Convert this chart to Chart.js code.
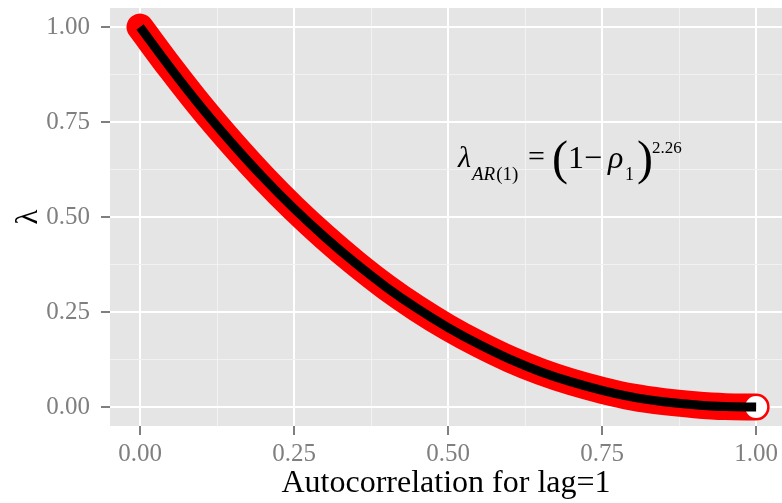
<!DOCTYPE html>
<html>
<head>
<meta charset="utf-8">
<script src="https://cdn.jsdelivr.net/npm/chart.js@4.4.1/dist/chart.umd.min.js"></script>
<style>
  html, body { margin: 0; padding: 0; background: #fff; }
  canvas { display: block; }
</style>
</head>
<body>
<canvas id="c" width="782" height="503"></canvas>
<script>
// valores
const rho = [0, 0.05, 0.10, 0.15, 0.20, 0.25, 0.30, 0.35, 0.40, 0.45, 0.50,
             0.55, 0.60, 0.65, 0.70, 0.75, 0.80, 0.85, 0.90, 0.95, 1.00];
const lambda = [1.000, 0.891, 0.788, 0.693, 0.604, 0.522, 0.447, 0.378, 0.315, 0.259, 0.209,
                0.165, 0.126, 0.093, 0.066, 0.044, 0.026, 0.014, 0.006, 0.001, 0.000];
const endPoint = [{ x: 1.00, y: 0.00 }];

const xMajor = [0, 0.25, 0.5, 0.75, 1];
const xMinor = [0.125, 0.375, 0.625, 0.875];
const xTickLabels = ['0.00', '0.25', '0.50', '0.75', '1.00'];
const yMajor = [0, 0.25, 0.5, 0.75, 1];
const yMinor = [0.125, 0.375, 0.625, 0.875];
const yTickLabels = ['0.00', '0.25', '0.50', '0.75', '1.00'];

const SERIF = '"Liberation Serif", "Times New Roman", serif';
const GREY = '#7f7f7f';

const points = rho.map((r, i) => ({ x: r, y: lambda[i] }));

/* fondo gris del panel */
const panelBg = {
  id: 'panelBg',
  beforeDraw(chart) {
    const { ctx, chartArea: a } = chart;
    ctx.save();
    ctx.fillStyle = '#e5e5e5';
    ctx.fillRect(a.left, a.top, a.right - a.left, a.bottom - a.top);
    ctx.restore();
  },
};

/* fórmula: λ_AR(1) = (1 − ρ1)^2.26 */
const formula = {
  id: 'formula',
  afterDraw(chart) {
    const { ctx, scales } = chart;
    const x0 = scales.x.getPixelForValue(0.516);
    const b = scales.y.getPixelForValue(0.630);
    ctx.save();
    ctx.fillStyle = '#000';
    ctx.textBaseline = 'alphabetic';
    const put = (txt, dx, dy, size, italic) => {
      ctx.font = (italic ? 'italic ' : '') + size + 'px ' + SERIF;
      ctx.fillText(txt, x0 + dx, b + dy);
      return ctx.measureText(txt).width;
    };
    put('λ', 0, -1, 30, true);
    const wAR = put('AR', 14, 12, 19, true);
    put('(1)', 14 + wAR + 1, 12, 19, false);
    put('=', 70, -2, 30, false);
    put('(', 94, 6, 48, false);
    put('1', 110, 0, 32, false);
    put('−', 126, 0, 32, false);
    put('ρ', 150, 0, 32, true);
    put('1', 167, 12, 18, false);
    put(')', 179, 6, 48, false);
    put('2.26', 194, -15, 17, false);
    ctx.restore();
  },
};

const isIn = (arr, v) => arr.some((m) => Math.abs(m - v) < 1e-9);

function axis(major, minor, labels, min, max, pad) {
  return {
    type: 'linear',
    min, max,
    afterBuildTicks: (s) => {
      s.ticks = major.concat(minor).sort((a, b) => a - b).map((v) => ({ value: v }));
    },
    ticks: {
      autoSkip: false, maxRotation: 0, padding: pad,
      color: GREY,
      font: { family: SERIF, size: 25 },
      callback: (v) => { const i = major.findIndex((m) => Math.abs(m - v) < 1e-9); return i >= 0 ? labels[i] : ''; },
    },
    grid: {
      color: (c) => (isIn(major, c.tick.value) ? '#ffffff' : '#f2f2f2'),
      lineWidth: (c) => (isIn(major, c.tick.value) ? 2 : 1),
      tickColor: (c) => (isIn(major, c.tick.value) ? GREY : 'rgba(0,0,0,0)'),
      tickLength: 9,
      tickWidth: 2,
    },
    border: { display: false },
  };
}

const noPad = (s) => { s.paddingTop = 0; s.paddingBottom = 0; s.paddingLeft = 0; s.paddingRight = 0; };

const xAxis = axis(xMajor, xMinor, xTickLabels, -0.0487, 1.042, 4);
xAxis.title = { display: true, text: 'Autocorrelation for lag=1', color: '#000', font: { family: SERIF, size: 32 }, padding: { top: 0, bottom: 0 } };
xAxis.afterFit = (s) => { s.height = 77; noPad(s); };

const yAxis = axis(yMajor, yMinor, yTickLabels, -0.05, 1.05, 11);
yAxis.title = { display: true, text: 'λ', color: '#000', font: { family: SERIF, size: 31 }, padding: { top: 10, bottom: 0 } };
yAxis.afterFit = (s) => { s.width = 110; noPad(s); };

new Chart(document.getElementById('c'), {
  type: 'scatter',
  data: {
    datasets: [
      {
        label: 'curva',
        data: points,
        showLine: true,
        borderColor: '#000000',
        borderWidth: 9,
        borderCapStyle: 'butt',
        cubicInterpolationMode: 'monotone',
        pointRadius: 0,
        clip: false,
      },
      {
        label: 'fin',
        data: endPoint,
        pointRadius: 12,
        pointBackgroundColor: '#ffffff',
        pointBorderColor: '#ff0000',
        pointBorderWidth: 2,
        clip: false,
      },
      {
        label: 'puntos',
        data: points,
        showLine: true,
        borderColor: '#ff0000',
        borderWidth: 27,
        borderCapStyle: 'round',
        borderJoinStyle: 'round',
        cubicInterpolationMode: 'monotone',
        pointRadius: 0,
        clip: false,
      },
    ],
  },
  options: {
    responsive: false,
    animation: false,
    layout: { autoPadding: false, padding: { top: 8, right: 0, left: 0, bottom: 0 } },
    plugins: { legend: { display: false }, tooltip: { enabled: false } },
    scales: { x: xAxis, y: yAxis },
  },
  plugins: [panelBg, formula],
});
</script>
</body>
</html>
